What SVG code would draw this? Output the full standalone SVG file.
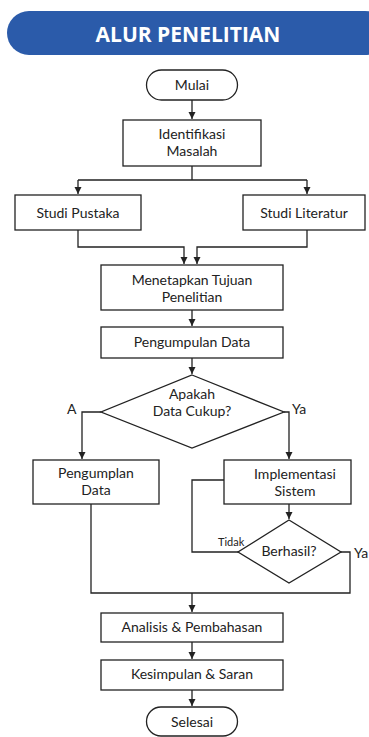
<svg xmlns="http://www.w3.org/2000/svg" width="369" height="737" viewBox="0 0 369 737">
<style>
.box{fill:#fff;stroke:#222;stroke-width:1.3}
.ln{fill:none;stroke:#222;stroke-width:1.3}
.t{font-family:Lato,"Open Sans",sans-serif;font-size:14px;fill:#222;text-anchor:middle}
.s{font-family:Lato,"Open Sans",sans-serif;fill:#222}
</style>
<defs>
<marker id="ah" markerUnits="userSpaceOnUse" markerWidth="8" markerHeight="8" refX="7" refY="4" orient="auto">
<path d="M0,0.5 L7,4 L0,7.5 z" fill="#222"/>
</marker>
</defs>
<rect width="369" height="737" fill="#fff"/>
<g id="title">
<rect x="7" y="11" width="380" height="44" rx="22" fill="#2B5BAA"/>
<text x="188" y="42" font-family="'Open Sans','Noto Sans',sans-serif" font-weight="bold" font-size="21" fill="#fff" text-anchor="middle">ALUR PENELITIAN</text>
</g>
<g id="connectors">
<path class="ln" d="M192,100 V119" marker-end="url(#ah)"/>
<path class="ln" d="M192,166 V180 M78,180 H307"/>
<path class="ln" d="M78,180 V194" marker-end="url(#ah)"/>
<path class="ln" d="M307,180 V194" marker-end="url(#ah)"/>
<path class="ln" d="M78,230 V247 H184 V264" marker-end="url(#ah)"/>
<path class="ln" d="M307,230 V247 H197 V264" marker-end="url(#ah)"/>
<path class="ln" d="M192,310 V326" marker-end="url(#ah)"/>
<path class="ln" d="M192,358 V374" marker-end="url(#ah)"/>
<path class="ln" d="M101,412 H82 V459" marker-end="url(#ah)"/>
<path class="ln" d="M284,412 H289 V459" marker-end="url(#ah)"/>
<path class="ln" d="M289,504 V519" marker-end="url(#ah)"/>
<path class="ln" d="M238,552 H192 V480 H224"/>
<path class="ln" d="M341,552 H350 V593 H91 V504"/>
<path class="ln" d="M192,593 V612" marker-end="url(#ah)"/>
<path class="ln" d="M192,642 V659" marker-end="url(#ah)"/>
<path class="ln" d="M192,690 V706" marker-end="url(#ah)"/>
<text class="s" x="67" y="414" font-size="14">A</text>
<text class="s" x="292" y="414" font-size="14">Ya</text>
<text class="s" x="218" y="546" font-size="11">Tidak</text>
<text class="s" x="354" y="558" font-size="14">Ya</text>
</g>
<g id="mulai">
<rect class="box" x="146.5" y="70" width="91" height="30" rx="15"/>
<text class="t" x="192" y="90">Mulai</text>
</g>
<g id="identifikasi">
<rect class="box" x="123" y="120" width="138" height="46"/>
<text class="t" x="192" y="139">Identifikasi<tspan x="192" dy="17">Masalah</tspan></text>
</g>
<g id="studi-pustaka">
<rect class="box" x="15" y="195" width="126" height="35"/>
<text class="t" x="78" y="218">Studi Pustaka</text>
</g>
<g id="studi-literatur">
<rect class="box" x="243" y="195" width="122" height="35"/>
<text class="t" x="304" y="218">Studi Literatur</text>
</g>
<g id="menetapkan">
<rect class="box" x="101" y="265" width="182" height="45"/>
<text class="t" x="192" y="285">Menetapkan Tujuan<tspan x="192" dy="17">Penelitian</tspan></text>
</g>
<g id="pengumpulan">
<rect class="box" x="101" y="327" width="182" height="31"/>
<text class="t" x="192" y="347">Pengumpulan Data</text>
</g>
<g id="apakah">
<path class="box" d="M192,375 L284,412 L192,448 L101,412 Z"/>
<text class="t" x="192" y="399">Apakah<tspan x="192" dy="17">Data Cukup?</tspan></text>
</g>
<g id="pengumplan">
<rect class="box" x="33" y="460" width="126" height="44"/>
<text class="t" x="96" y="478">Pengumplan<tspan x="96" dy="17">Data</tspan></text>
</g>
<g id="implementasi">
<rect class="box" x="224" y="460" width="127" height="44"/>
<text class="t" x="295" y="479">Implementasi<tspan x="295" dy="17">Sistem</tspan></text>
</g>
<g id="berhasil">
<path class="box" d="M289,520 L341,552 L289,583 L238,552 Z"/>
<text class="t" x="289" y="556">Berhasil?</text>
</g>
<g id="analisis">
<rect class="box" x="101" y="613" width="182" height="29"/>
<text class="t" x="192" y="632">Analisis &amp; Pembahasan</text>
</g>
<g id="kesimpulan">
<rect class="box" x="101" y="660" width="182" height="30"/>
<text class="t" x="192" y="679">Kesimpulan &amp; Saran</text>
</g>
<g id="selesai">
<rect class="box" x="146.5" y="707" width="91" height="29" rx="14.5"/>
<text class="t" x="192" y="727">Selesai</text>
</g>
</svg>
